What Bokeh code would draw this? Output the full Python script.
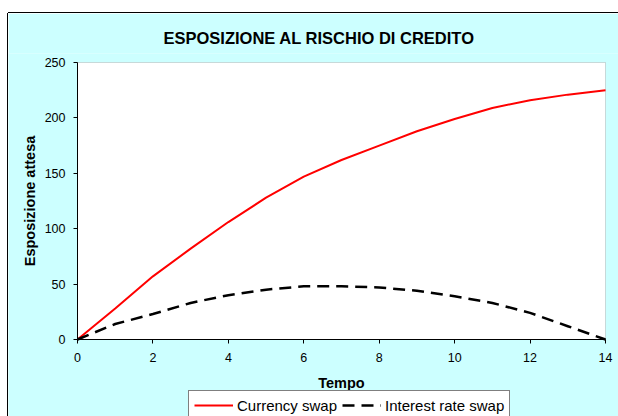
import math
from bokeh.plotting import figure
from bokeh.models import (Range1d, FixedTicker, Legend, LegendItem, Spacer,
                          BoxAnnotation, Label)
from bokeh.layouts import column, row
from bokeh.embed import file_html
from bokeh.resources import INLINE

# ---- data ----
tempo = [0, 1, 2, 3, 4, 5, 6, 7, 8, 9, 10, 11, 12, 13, 14]
currency_swap = [0, 28, 57, 82, 106, 128, 147, 162, 175, 188, 199, 209, 216, 221, 225]
interest_rate_swap = [0, 14, 23, 33, 40, 45, 48, 48, 47, 44, 39, 33, 24, 12, 0]
x_ticks = [0, 2, 4, 6, 8, 10, 12, 14]
y_ticks = [0, 50, 100, 150, 200, 250]
title_text = "ESPOSIZIONE AL RISCHIO DI CREDITO"
x_label = "Tempo"
y_label = "Esposizione attesa"
series_names = ["Currency swap", "Interest rate swap"]

CYAN = "#CCFFFF"
FONT = "Liberation Sans"

# the frame fills the cyan panel below the title; the plot area
# (0..14 x 0..250) occupies 528 x 277 px inside it: 69 px from the left,
# 13 px from the right, 9 px from the top and 77 px from the bottom
x_lo, x_hi = x_ticks[0], x_ticks[-1]
y_lo, y_hi = y_ticks[0], y_ticks[-1]
x_start = x_lo - (x_hi - x_lo) * 69 / 528
x_end = x_hi + (x_hi - x_lo) * 13 / 528
y_start = y_lo - (y_hi - y_lo) * 77 / 277
y_end = y_hi + (y_hi - y_lo) * 9 / 277

p = figure(width=610, height=403, output_backend="svg", toolbar_location=None,
           x_range=Range1d(x_start, x_end), y_range=Range1d(y_start, y_end),
           min_border_left=0, min_border_right=0, min_border_top=40,
           min_border_bottom=0)
p.border_fill_color = CYAN
p.background_fill_color = CYAN
p.outline_line_color = None

plot_area = BoxAnnotation(left=x_lo, right=x_hi, bottom=y_lo, top=y_hi,
                          fill_color="white", fill_alpha=1,
                          line_color="#808080", line_width=1, level="underlay")
p.add_layout(plot_area)

p.title.text = title_text
p.title.align = "left"
p.title.offset = 155
p.title.text_font = FONT
p.title.text_font_size = "16.5px"
p.title.text_font_style = "bold"
p.title.text_color = "black"
p.title.standoff = 14

p.xgrid.visible = False
p.ygrid.visible = False

for ax in (p.xaxis[0], p.yaxis[0]):
    ax.axis_line_color = "black"
    ax.axis_line_width = 1
    ax.major_tick_line_color = "black"
    ax.major_tick_in = 0
    ax.major_tick_out = 4
    ax.minor_tick_line_color = None
    ax.major_label_text_font = FONT
    ax.major_label_text_font_size = "12.5px"
    ax.major_label_text_color = "black"

p.xaxis.ticker = FixedTicker(ticks=x_ticks)
p.yaxis.ticker = FixedTicker(ticks=y_ticks)
p.xaxis.fixed_location = y_lo
p.yaxis.fixed_location = x_lo
p.xaxis.bounds = (x_lo, x_hi)
p.yaxis.bounds = (y_lo, y_hi)
p.xaxis.major_label_standoff = 9
p.yaxis.major_label_standoff = 8

label_style = dict(text_font=FONT, text_font_size="14.5px",
                   text_font_style="bold", text_color="black",
                   text_align="center", text_baseline="middle")
p.add_layout(Label(x=(x_lo + x_hi) / 2, y=y_lo, y_offset=-43, text=x_label,
                   **label_style))
p.add_layout(Label(x=x_lo, y=(y_lo + y_hi) / 2, x_offset=-48, angle=math.pi / 2,
                   text=y_label, **label_style))

r1 = p.line(tempo, currency_swap, line_color="#FF0000", line_width=2)
r2 = p.line(tempo, interest_rate_swap, line_color="black", line_width=2.5,
            line_dash="12 7")

legend = Legend(items=[LegendItem(label=series_names[0], renderers=[r1]),
                       LegendItem(label=series_names[1], renderers=[r2])],
                orientation="horizontal", location=(180, -4), margin=0,
                padding=5, spacing=5, glyph_width=39, glyph_height=18,
                label_height=18, label_standoff=4,
                label_text_font=FONT, label_text_font_size="15px",
                label_text_color="black",
                border_line_color="black", border_line_width=1,
                background_fill_color="white", background_fill_alpha=1)
p.add_layout(legend, "center")

black = {"background-color": "black"}
left_col = column(Spacer(width=1, height=13),
                  Spacer(width=1, height=403, styles=black))
right_col = column(Spacer(width=610, height=12),
                   Spacer(width=610, height=1, styles=black), p)
layout = row(Spacer(width=7, height=416), left_col, right_col)

open("out.html", "w").write(file_html(layout, INLINE))
